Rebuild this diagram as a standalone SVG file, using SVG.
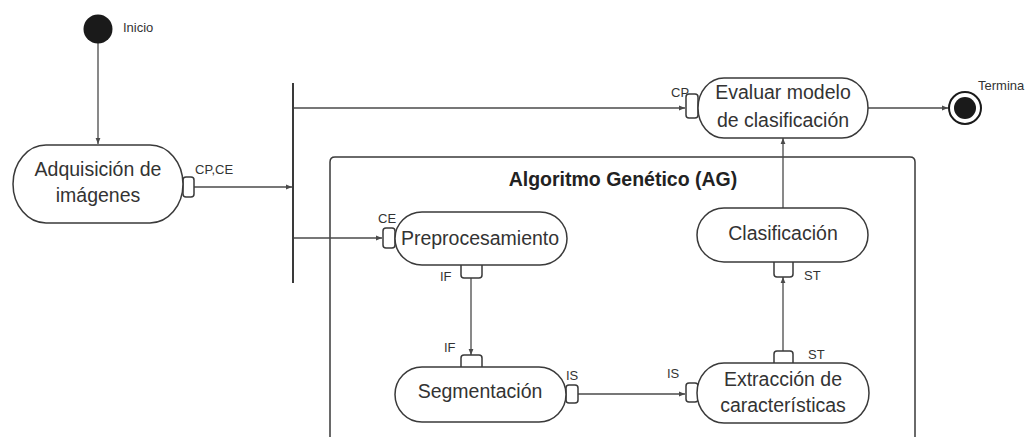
<svg xmlns="http://www.w3.org/2000/svg" width="1034" height="437" viewBox="0 0 1034 437">
<defs>
<style>
.bg{fill:#ffffff}
.node{fill:#ffffff;stroke:#3a3a3a;stroke-width:1.5}
.pin{fill:#ffffff;stroke:#3a3a3a;stroke-width:1.5}
.edge{fill:none;stroke:#4a4a4a;stroke-width:1.3}
.txt{font-family:"Liberation Sans",Arial,sans-serif;font-size:19.5px;fill:#333333;text-anchor:middle}
.lbl{font-family:"Liberation Sans",Arial,sans-serif;font-size:13px;fill:#333333}
.title{font-family:"Liberation Sans",Arial,sans-serif;font-size:19.5px;font-weight:bold;fill:#222222;text-anchor:middle}
</style>
<marker id="arr" viewBox="0 0 10 10" refX="10" refY="5" markerWidth="6" markerHeight="6" orient="auto" markerUnits="userSpaceOnUse">
<path d="M0,1 L10,5 L0,9 z" fill="#4a4a4a"/>
</marker>
</defs>
<rect class="bg" x="0" y="0" width="1034" height="437"/>

<g id="container">
<path d="M330,450 L330,162 Q330,157 335,157 L910,157 Q915,157 915,162 L915,450" fill="none" stroke="#3a3a3a" stroke-width="1.5"/>
<text class="title" x="623" y="186">Algoritmo Genético (AG)</text>
</g>

<g id="connectors">
<line class="edge" x1="98" y1="43" x2="98" y2="144" marker-end="url(#arr)"/>
<line class="edge" x1="194" y1="187" x2="292" y2="187" marker-end="url(#arr)"/>
<line class="edge" x1="294" y1="108" x2="685" y2="108" marker-end="url(#arr)"/>
<line class="edge" x1="294" y1="238" x2="382" y2="238" marker-end="url(#arr)"/>
<line class="edge" x1="471" y1="278" x2="471" y2="355" marker-end="url(#arr)"/>
<line class="edge" x1="578" y1="394" x2="685" y2="394" marker-end="url(#arr)"/>
<line class="edge" x1="783" y1="352" x2="783" y2="277" marker-end="url(#arr)"/>
<line class="edge" x1="783" y1="208" x2="783" y2="138" marker-end="url(#arr)"/>
<line class="edge" x1="868" y1="108" x2="948" y2="108" marker-end="url(#arr)"/>
</g>

<g id="fork">
<line x1="293" y1="83" x2="293" y2="283" stroke="#3a3a3a" stroke-width="2"/>
</g>

<g id="inicio">
<circle cx="98" cy="29" r="14.5" fill="#1a1a1a"/>
<text class="lbl" x="123" y="32">Inicio</text>
</g>

<g id="adquisicion">
<rect class="pin" x="183" y="177" width="11" height="20" rx="3"/>
<rect class="node" x="13" y="145" width="170" height="78" rx="33" ry="39"/>
<text class="txt" x="98" y="176">Adquisición de</text>
<text class="txt" x="98" y="202">imágenes</text>
<text class="lbl" x="195" y="174">CP,CE</text>
</g>

<g id="evaluar">
<rect class="pin" x="686" y="94" width="12" height="24" rx="3"/>
<rect class="node" x="698" y="78" width="170" height="60" rx="26" ry="30"/>
<text class="txt" x="783" y="99">Evaluar modelo</text>
<text class="txt" x="783" y="127">de clasificación</text>
<text class="lbl" x="671" y="97">CP</text>
</g>

<g id="termina">
<circle cx="965" cy="108" r="16" fill="#ffffff" stroke="#1a1a1a" stroke-width="2"/>
<circle cx="965" cy="108" r="11" fill="#1a1a1a"/>
<text class="lbl" x="978" y="90">Termina</text>
</g>

<g id="preprocesamiento">
<rect class="pin" x="383" y="228" width="12" height="20" rx="3"/>
<rect class="pin" x="461" y="262" width="21" height="16" rx="3"/>
<rect class="node" x="395" y="212" width="172" height="53" rx="27" ry="26.5"/>
<text class="txt" x="480" y="245">Preprocesamiento</text>
<text class="lbl" x="378" y="223">CE</text>
<text class="lbl" x="440" y="281">IF</text>
</g>

<g id="segmentacion">
<rect class="pin" x="461" y="355" width="21" height="16" rx="3"/>
<rect class="pin" x="566" y="385" width="12" height="18" rx="3"/>
<rect class="node" x="395" y="367" width="171" height="55" rx="27" ry="27.5"/>
<text class="txt" x="480" y="398">Segmentación</text>
<text class="lbl" x="444" y="352">IF</text>
<text class="lbl" x="566" y="380">IS</text>
</g>

<g id="extraccion">
<rect class="pin" x="686" y="383" width="12" height="19" rx="3"/>
<rect class="pin" x="774" y="351" width="19" height="16" rx="3"/>
<rect class="node" x="697" y="363" width="172" height="60" rx="27" ry="30"/>
<text class="txt" x="783" y="386">Extracción de</text>
<text class="txt" x="783" y="412">características</text>
<text class="lbl" x="667" y="378">IS</text>
<text class="lbl" x="808" y="359">ST</text>
</g>

<g id="clasificacion">
<rect class="pin" x="774" y="258" width="19" height="19" rx="3"/>
<rect class="node" x="697" y="208" width="171" height="54" rx="27" ry="27"/>
<text class="txt" x="783" y="240">Clasificación</text>
<text class="lbl" x="804" y="280">ST</text>
</g>
</svg>
